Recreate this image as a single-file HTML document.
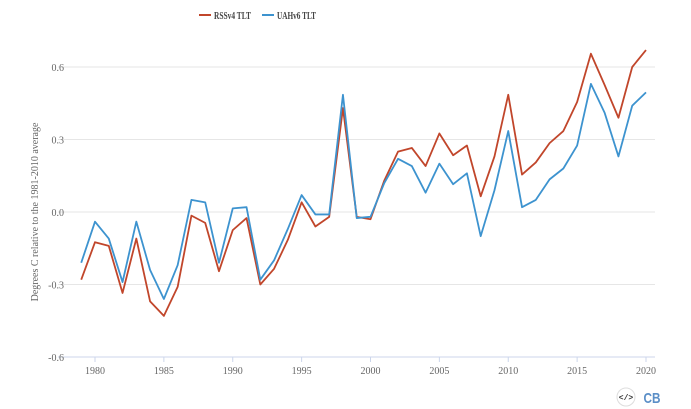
<!DOCTYPE html>
<html><head><meta charset="utf-8"><style>
body{margin:0;background:#fff;}
svg{display:block;font-family:"Liberation Serif",serif;}
</style></head><body>
<svg width="691" height="409">
<g>
<line x1="199" y1="15" x2="211" y2="15" stroke="#c1462b" stroke-width="2"/>
<text x="214" y="19" font-size="10" font-weight="bold" fill="#444" textLength="37" lengthAdjust="spacingAndGlyphs">RSSv4 TLT</text>
<line x1="262" y1="15" x2="274" y2="15" stroke="#3d93cf" stroke-width="2"/>
<text x="277" y="19" font-size="10" font-weight="bold" fill="#444" textLength="39" lengthAdjust="spacingAndGlyphs">UAHv6 TLT</text>
</g>
<text transform="translate(38,212) rotate(-90)" text-anchor="middle" font-size="10" fill="#666">Degrees C relative to the 1981-2010 average</text>
<g id="grid"></g><g id="lines"></g>
<g>
<circle cx="626" cy="397" r="9" fill="#fff" stroke="#ddd"/>
<text x="626" y="400" text-anchor="middle" font-size="8" font-weight="bold" font-family="Liberation Mono,monospace" fill="#333">&lt;/&gt;</text>
<text x="652" y="403" text-anchor="middle" font-size="15" font-weight="bold" font-family="Liberation Sans,sans-serif" fill="#5b8fc7" textLength="17" lengthAdjust="spacingAndGlyphs">CB</text>
</g>
</svg>
<script>
const years=[];for(let y=1979;y<=2020;y++)years.push(y);
const rss=[-0.28,-0.125,-0.14,-0.335,-0.11,-0.37,-0.43,-0.31,-0.015,-0.045,-0.245,-0.075,-0.025,-0.3,-0.235,-0.115,0.04,-0.06,-0.02,0.43,-0.02,-0.03,0.13,0.25,0.265,0.19,0.325,0.235,0.275,0.065,0.23,0.485,0.155,0.205,0.285,0.335,0.455,0.655,0.525,0.39,0.6,0.67];
const uah=[-0.21,-0.04,-0.11,-0.29,-0.04,-0.24,-0.36,-0.22,0.05,0.04,-0.21,0.015,0.02,-0.28,-0.2,-0.07,0.07,-0.01,-0.01,0.485,-0.025,-0.02,0.12,0.22,0.19,0.08,0.2,0.115,0.16,-0.1,0.09,0.335,0.02,0.05,0.135,0.18,0.275,0.53,0.41,0.23,0.44,0.495];
const yTicks=[-0.6,-0.3,0.0,0.3,0.6];
const xTicks=[1980,1985,1990,1995,2000,2005,2010,2015,2020];
const X=y=>95+(y-1980)*(551/40);
const Y=v=>212-v*(145/0.6);
const ns='http://www.w3.org/2000/svg';
const grid=document.getElementById('grid'),lines=document.getElementById('lines');
function mk(tag,at,parent){const e=document.createElementNS(ns,tag);for(const k in at)e.setAttribute(k,at[k]);parent.appendChild(e);return e;}
yTicks.forEach(v=>{
 const l=mk('line',{x1:58,x2:655,y1:Y(v),y2:Y(v),stroke:v===-0.6?'#ccd6eb':'#e6e6e6','stroke-width':1},grid);
 
 
 const t=mk('text',{x:64,y:Y(v)+4,'text-anchor':'end','font-size':10,fill:'#666'},grid);
 t.textContent=v.toFixed(1);
 
 
});
xTicks.forEach(y=>{
 const l=mk('line',{x1:X(y),x2:X(y),y1:357,y2:362,stroke:'#ccd6eb'},grid);
 
 
 const t=mk('text',{x:X(y),y:374,'text-anchor':'middle','font-size':10,fill:'#666'},grid);
 t.textContent=y;
 
 
});
[[rss,'#c1462b','rss-line'],[uah,'#3d93cf','uah-line']].forEach(([d,c,n])=>{
 const p=mk('polyline',{points:d.map((v,i)=>X(years[i])+','+Y(v)).join(' '),fill:'none',stroke:c,'stroke-width':1.8,'stroke-linejoin':'round'},lines);
 
 
});
</script>
</body></html>
